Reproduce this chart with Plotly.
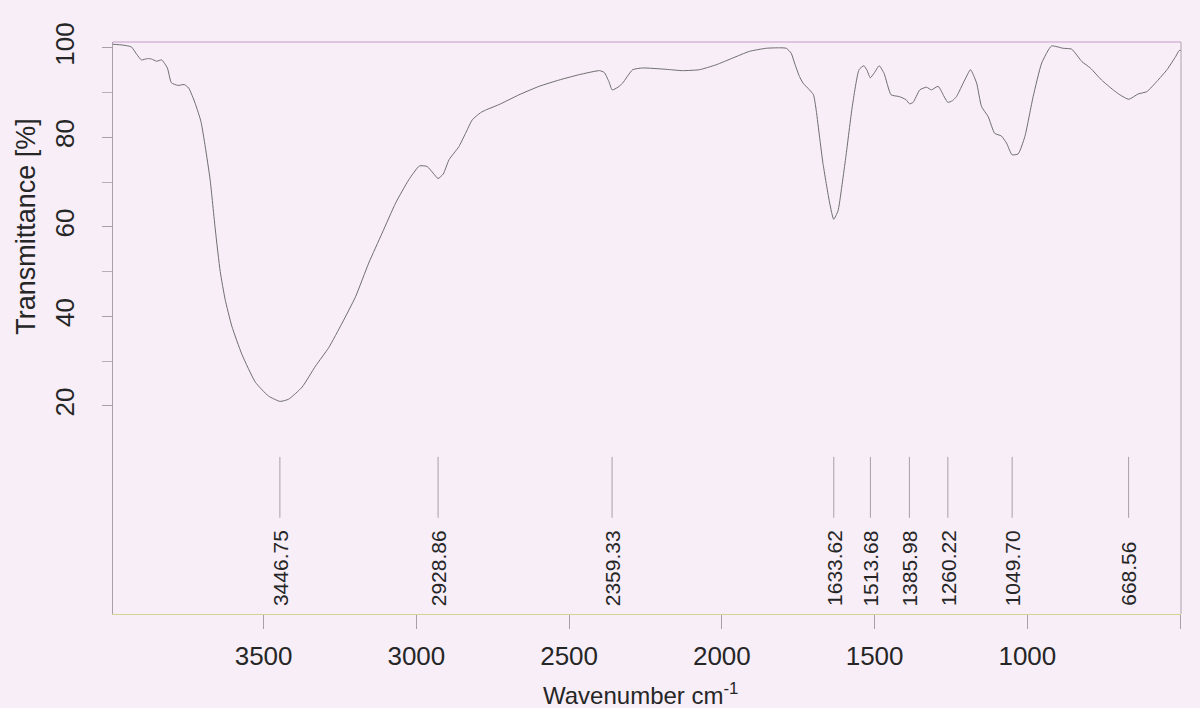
import plotly.graph_objects as go

# ---------------- data ----------------
wavenumber = [3993, 3960, 3933, 3915, 3900, 3880, 3867, 3850, 3834, 3815, 3802, 3780,
              3760, 3745, 3724, 3705, 3691, 3675, 3658, 3642, 3626, 3604, 3571, 3527,
              3484, 3446, 3418, 3374, 3330, 3287, 3243, 3199, 3156, 3112, 3068, 3025,
              2990, 2965, 2945, 2929, 2912, 2893, 2861, 2839, 2817, 2790, 2773, 2730,
              2664, 2598, 2533, 2467, 2400, 2385, 2370, 2359, 2340, 2325, 2292, 2259,
              2183, 2129, 2074, 2019, 1965, 1910, 1855, 1811, 1789, 1773, 1762, 1746,
              1734, 1713, 1700, 1691, 1680, 1669, 1647, 1634, 1620, 1615, 1594, 1573,
              1551, 1535, 1525, 1514, 1500, 1485, 1469, 1446, 1419, 1397, 1386, 1374,
              1352, 1330, 1314, 1292, 1270, 1260, 1245, 1232, 1205, 1186, 1166, 1150,
              1128, 1107, 1085, 1068, 1050, 1030, 1008, 981, 953, 921, 883, 855, 821,
              794, 757, 719, 697, 668, 637, 609, 576, 543, 514, 503, 497]
transmittance = [100.8, 100.6, 100.2, 98.5, 97.3, 97.6, 97.5, 97.0, 97.3, 95.5, 92.2, 91.6,
                 91.8, 91.0, 87.6, 83.5, 77.9, 70.5, 59.3, 50.0, 43.8, 37.8, 31.5, 25.3,
                 22.2, 21.0, 21.5, 24.2, 28.9, 33.0, 38.5, 44.4, 51.9, 58.6, 65.3, 70.5,
                 73.6, 73.5, 72.0, 70.8, 71.8, 75.0, 77.9, 80.9, 83.9, 85.5, 86.1, 87.3,
                 89.5, 91.4, 92.8, 94.0, 94.9, 94.5, 92.5, 90.6, 91.2, 92.1, 95.1, 95.5,
                 95.2, 94.9, 95.1, 96.2, 97.7, 99.2, 99.9, 100.0, 99.9, 98.8, 96.6, 93.6,
                 92.1, 90.6, 89.5, 86.0, 80.0, 74.2, 65.3, 61.7, 63.5, 65.3, 75.7, 86.9,
                 95.1, 96.0, 95.0, 93.3, 94.5, 96.0, 94.3, 89.5, 89.1, 88.4, 87.5, 87.8,
                 90.6, 91.2, 90.6, 91.4, 88.8, 87.8, 88.2, 89.1, 92.8, 95.1, 92.1, 86.9,
                 84.6, 80.9, 80.3, 78.7, 76.1, 76.3, 80.2, 89.1, 96.6, 100.4, 99.9, 99.7, 96.9,
                 95.5, 92.8, 90.6, 89.5, 88.5, 89.7, 90.2, 92.5, 95.1, 98.1, 99.4, 99.4]

peak_positions = [3446.75, 2928.86, 2359.33, 1633.62, 1513.68, 1385.98, 1260.22, 1049.70, 668.56]

x_ticks = [3500, 3000, 2500, 2000, 1500, 1000, 500]
y_ticks = [20, 40, 60, 80, 100]
y_minor_ticks = [30, 50, 70, 90]

x_title = "Wavenumber cm<sup>-1</sup>"
y_title = "Transmittance [%]"

# ---------------- style ----------------
FONT = "Liberation Sans, Arial, sans-serif"
BG = "#f7eef8"
TEXT = "#262626"

fig = go.Figure()

fig.add_trace(go.Scatter(
    x=wavenumber, y=transmittance, mode="lines",
    line=dict(color="#6f6f6f", width=1, shape="spline", smoothing=0.5),
    hoverinfo="skip", showlegend=False,
))

# peak marker lines
px, py = [], []
for p in peak_positions:
    px += [p, p, None]
    py += [8.6, -5.0, None]
fig.add_trace(go.Scatter(
    x=px, y=py, mode="lines",
    line=dict(color="#a8a0a8", width=1),
    hoverinfo="skip", showlegend=False,
))

annotations = []
for p in peak_positions:
    annotations.append(dict(
        x=p, y=-25.2, xref="x", yref="y", text=f"{p:.2f}",
        textangle=-90, showarrow=False, xanchor="center", yanchor="bottom",
        font=dict(family=FONT, size=21, color=TEXT),
    ))

annotations.append(dict(
    x=0, y=60, xref="paper", yref="y", text=y_title, textangle=-90,
    showarrow=False, xanchor="center", yanchor="middle", xshift=-87,
    font=dict(family=FONT, size=27, color=TEXT),
))
annotations.append(dict(
    x=0.494, y=0, xref="paper", yref="paper", text=x_title,
    showarrow=False, xanchor="center", yanchor="middle", yshift=-80,
    font=dict(family=FONT, size=24, color=TEXT),
))

fig.update_layout(
    width=1200, height=708,
    margin=dict(l=113, r=19, t=42, b=94),
    paper_bgcolor=BG, plot_bgcolor=BG,
    annotations=annotations,
    shapes=[
        dict(type="line", xref="paper", yref="paper", x0=0, x1=1, y0=1, y1=1,
             line=dict(color="#c79ac6", width=1)),
        dict(type="line", xref="paper", yref="paper", x0=1, x1=1, y0=0, y1=1,
             line=dict(color="#aaa2ab", width=1)),
    ],
)

fig.update_xaxes(
    range=[3993, 497], tickvals=x_ticks, ticktext=[str(v) for v in x_ticks],
    showgrid=False, zeroline=False,
    showline=True, linecolor="#d3d68f", linewidth=1,
    ticks="outside", ticklen=14, tickcolor="#a8a0a8", tickwidth=1,
    ticklabelstandoff=5,
    tickfont=dict(family=FONT, size=26, color=TEXT),
)
fig.update_yaxes(
    range=[-26.5, 101.3], tickvals=y_ticks, ticktext=[str(v) for v in y_ticks],
    tickangle=-90, showgrid=False, zeroline=False,
    showline=True, linecolor="#a8a0a8", linewidth=1,
    ticks="outside", ticklen=10, tickcolor="#a8a0a8", tickwidth=1,
    ticklabelstandoff=18,
    tickfont=dict(family=FONT, size=26, color=TEXT),
    minor=dict(tickvals=y_minor_ticks, ticks="outside", ticklen=10,
               tickcolor="#b8b0b8", tickwidth=1, showgrid=False),
)

fig.write_html(
    "out.html",
    config={"displayModeBar": False},
    post_script="document.body.style.margin='0';document.body.style.background='%s';" % BG,
)
